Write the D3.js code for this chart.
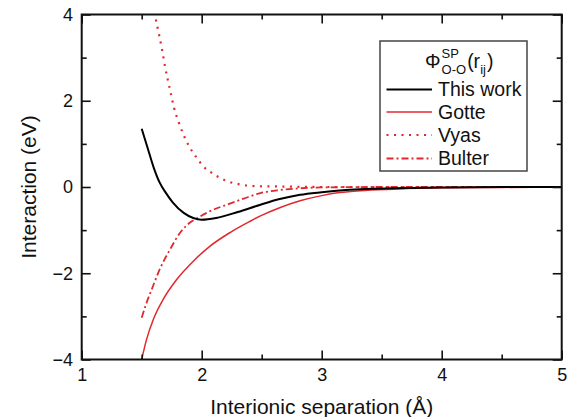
<!DOCTYPE html>
<html>
<head>
<meta charset="utf-8">
<script src="https://cdn.jsdelivr.net/npm/d3@7/dist/d3.min.js"></script>
<style>
  html, body { margin: 0; padding: 0; background: #fff; }
  svg text { font-family: "Liberation Sans", Arial, Helvetica, sans-serif; fill: #111; }
</style>
</head>
<body>
<svg id="chart" width="582" height="417"></svg>
<script>
// ---- data ----
const thisWorkR = [1.5, 1.55, 1.6, 1.65, 1.7, 1.76, 1.85, 1.93, 2.0, 2.12, 2.3, 2.49, 2.65, 2.82, 3.0, 3.15, 3.32, 3.6, 4.0, 4.5, 5.0];
const thisWorkV = [1.35, 0.9, 0.45, 0.1, -0.13, -0.36, -0.6, -0.72, -0.76, -0.72, -0.58, -0.41, -0.28, -0.18, -0.12, -0.08, -0.05, -0.03, -0.01, 0, 0];

const gotteR = [1.5, 1.54, 1.6, 1.68, 1.79, 1.93, 2.07, 2.24, 2.4, 2.49, 2.65, 2.82, 3.0, 3.15, 3.32, 3.6, 4.0, 4.5, 5.0];
const gotteV = [-4.0, -3.54, -3.05, -2.6, -2.15, -1.72, -1.37, -1.05, -0.8, -0.67, -0.48, -0.32, -0.2, -0.13, -0.085, -0.05, -0.02, -0.01, 0];

const vyasR = [1.605, 1.647, 1.672, 1.694, 1.717, 1.742, 1.769, 1.805, 1.847, 1.888, 1.958, 2.013, 2.083, 2.208, 2.32, 2.45, 2.7, 3.0, 4.0, 5.0];
const vyasV = [4.05, 3.5, 3.15, 2.8, 2.49, 2.18, 1.84, 1.53, 1.22, 0.98, 0.68, 0.48, 0.33, 0.14, 0.06, 0.02, 0.01, 0, 0, 0];

const bulterR = [1.5, 1.54, 1.583, 1.65, 1.736, 1.82, 1.9, 1.97, 2.07, 2.21, 2.35, 2.49, 2.65, 2.82, 3.0, 3.5, 4.0, 5.0];
const bulterV = [-3.03, -2.69, -2.38, -1.91, -1.45, -1.06, -0.83, -0.71, -0.56, -0.41, -0.27, -0.14, -0.07, -0.03, -0.01, 0, 0, 0];

const xMajor = [1, 2, 3, 4, 5];
const xMinor = [1.5, 2.5, 3.5, 4.5];
const yMajor = [-4, -2, 0, 2, 4];
const yMinor = [-3, -1, 1, 3];

const seriesNames = ["This work", "Gotte", "Vyas", "Bulter"];
const xTitle = "Interionic separation (Å)";
const yTitle = "Interaction (eV)";

// ---- layout ----
const RED = "#e0282e";
const svg = d3.select("#chart");
const L = 81.7, R = 561.7, T = 14.5, B = 359.5;
const x = d3.scaleLinear().domain([1, 5]).range([L, R]);
const y = d3.scaleLinear().domain([-4, 4]).range([B, T]);

svg.append("defs").append("clipPath").attr("id", "plotclip")
  .append("rect").attr("x", L).attr("y", T).attr("width", R - L).attr("height", B - T);

const styles = [
  { color: "#000", width: 2, dash: null },
  { color: RED, width: 1.5, dash: null },
  { color: RED, width: 2.2, dash: "2,5.5" },
  { color: RED, width: 1.8, dash: "7,3,2,3" }
];
const seriesData = [
  d3.zip(thisWorkR, thisWorkV),
  d3.zip(gotteR, gotteV),
  d3.zip(vyasR, vyasV),
  d3.zip(bulterR, bulterV)
];

const line = d3.line().x(d => x(d[0])).y(d => y(d[1])).curve(d3.curveMonotoneX);
const plot = svg.append("g").attr("clip-path", "url(#plotclip)");
// draw order: Gotte, Vyas, Bulter, This work on top
[1, 2, 3, 0].forEach(i => {
  plot.append("path").datum(seriesData[i])
    .attr("d", line)
    .attr("fill", "none")
    .attr("stroke", styles[i].color)
    .attr("stroke-width", styles[i].width)
    .attr("stroke-dasharray", styles[i].dash);
});

// ---- axes ----
const fontTick = "18px";
function styleAxis(g) {
  g.select(".domain").remove();
  g.selectAll(".tick line").attr("stroke", "#111").attr("stroke-width", 1.6);
  g.selectAll("text").style("font-size", fontTick).attr("fill", "#111")
    .style("font-family", '"Liberation Sans", Arial, sans-serif');
}
const MAJ = 9, MIN = 5;
svg.append("g").attr("transform", `translate(0,${B})`)
  .call(d3.axisBottom(x).tickValues(xMajor).tickFormat(d3.format("d")).tickSizeInner(-MAJ).tickSizeOuter(0).tickPadding(8.7))
  .call(styleAxis);
svg.append("g").attr("transform", `translate(0,${B})`)
  .call(d3.axisBottom(x).tickValues(xMinor).tickFormat("").tickSizeInner(-MIN).tickSizeOuter(0))
  .call(styleAxis);
svg.append("g").attr("transform", `translate(0,${T})`)
  .call(d3.axisTop(x).tickValues(xMajor).tickFormat("").tickSizeInner(-MAJ).tickSizeOuter(0))
  .call(styleAxis);
svg.append("g").attr("transform", `translate(0,${T})`)
  .call(d3.axisTop(x).tickValues(xMinor).tickFormat("").tickSizeInner(-MIN).tickSizeOuter(0))
  .call(styleAxis);
svg.append("g").attr("transform", `translate(${L},0)`)
  .call(d3.axisLeft(y).tickValues(yMajor).tickFormat(d3.format("d")).tickSizeInner(-MAJ).tickSizeOuter(0).tickPadding(8.7))
  .call(styleAxis);
svg.append("g").attr("transform", `translate(${L},0)`)
  .call(d3.axisLeft(y).tickValues(yMinor).tickFormat("").tickSizeInner(-MIN).tickSizeOuter(0))
  .call(styleAxis);
svg.append("g").attr("transform", `translate(${R},0)`)
  .call(d3.axisRight(y).tickValues(yMajor).tickFormat("").tickSizeInner(-MAJ).tickSizeOuter(0))
  .call(styleAxis);
svg.append("g").attr("transform", `translate(${R},0)`)
  .call(d3.axisRight(y).tickValues(yMinor).tickFormat("").tickSizeInner(-MIN).tickSizeOuter(0))
  .call(styleAxis);

// frame
svg.append("rect").attr("x", L).attr("y", T).attr("width", R - L).attr("height", B - T)
  .attr("fill", "none").attr("stroke", "#111").attr("stroke-width", 2);

// axis titles
svg.append("text").attr("x", (L + R) / 2).attr("y", 414).attr("text-anchor", "middle")
  .style("font-size", "21px").text(xTitle);
svg.append("text").attr("transform", `translate(36,${(T + B) / 2}) rotate(-90)`)
  .attr("text-anchor", "middle").style("font-size", "21px").text(yTitle);

// ---- legend ----
const lg = svg.append("g");
lg.append("rect").attr("x", 380).attr("y", 41).attr("width", 147).attr("height", 130)
  .attr("fill", "#fff").attr("stroke", "#444").attr("stroke-width", 1.5);

// legend title: Φ^SP_{O-O}(r_ij)
const tY = 67.5, big = "19.5px", small = "13px";
let cx = 425;
function put(txt, size, dy) {
  const t = lg.append("text").attr("x", cx).attr("y", tY + dy).style("font-size", size).text(txt);
  return t.node().getComputedTextLength();
}
const wPhi = put("Φ", big, 0); cx += wPhi + 1;
const wSP = put("SP", small, -10);
const wOO = put("O-O", small, 6);
cx += Math.max(wSP, wOO) + 1;
cx += put("(r", big, 0);
cx += put("ij", small, 6) + 1;
put(")", big, 0);

const baselines = [96, 118.5, 141.5, 165];
seriesNames.forEach((name, i) => {
  const by = baselines[i];
  lg.append("line").attr("x1", 386.5).attr("x2", 432).attr("y1", by - 6.5).attr("y2", by - 6.5)
    .attr("stroke", styles[i].color).attr("stroke-width", styles[i].width)
    .attr("stroke-dasharray", styles[i].dash);
  lg.append("text").attr("x", 438).attr("y", by).style("font-size", big).text(name);
});
</script>
</body>
</html>
